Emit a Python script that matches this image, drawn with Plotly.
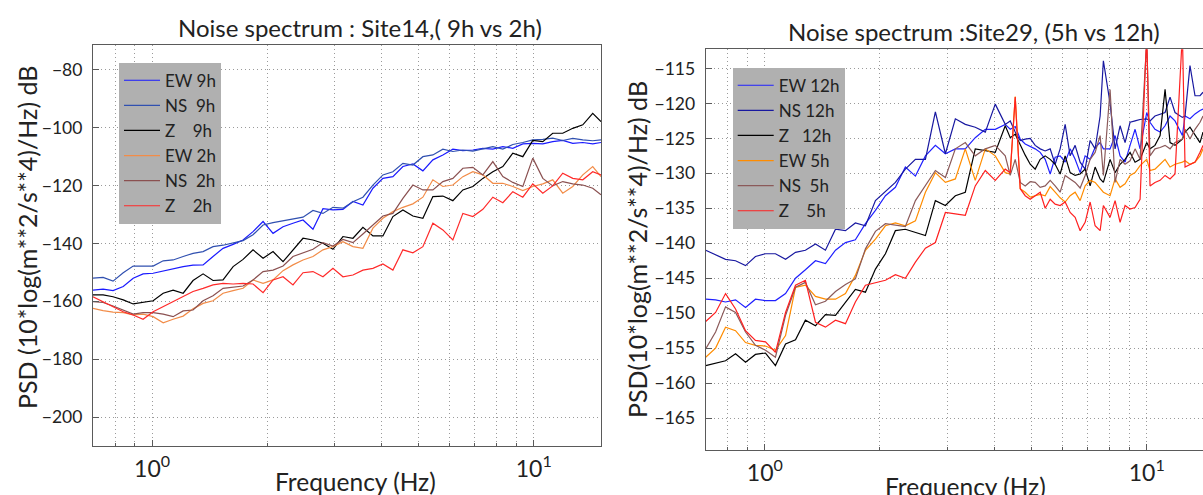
import math
import plotly.graph_objects as go

# ---------------- Left panel: Site14 (9h vs 2h) ----------------
freq_left = [0.700, 0.744, 0.790, 0.840, 0.892, 0.947, 1.006, 1.069, 1.135, 1.206, 1.280, 1.360,
             1.444, 1.534, 1.630, 1.731, 1.838, 1.953,
             2.074, 2.203, 2.339, 2.485, 2.639, 2.803, 2.977, 3.162, 3.359, 3.567, 3.789, 4.024,
             4.274, 4.540, 4.822, 5.122, 5.440, 5.778, 6.137, 6.519, 6.924, 7.354, 7.811, 8.296,
             8.811, 9.359, 9.940, 10.56, 11.21, 11.91, 12.65, 13.44, 14.27, 15.0]

ew_9h = [-156.1, -155.8, -156.3, -154.9, -152.0, -150.5, -150.3, -149.5, -148.7, -148.0, -147.5, -147.4,
         -144.5, -141.7, -140.3, -138.8, -135.9, -132.4,
         -136.5, -134.2, -133.0, -131.9, -135.1, -128.0, -128.4, -128.2, -125.5, -126.7, -120.9, -117.5,
         -116.9, -113.4, -112.5, -114.9, -111.1, -109.4, -107.4, -107.9, -107.7, -107.1, -107.4, -106.5,
         -107.1, -105.6, -105.4, -105.6, -104.8, -104.4, -105.4, -105.1, -105.6, -105.1]
ns_9h = [-152.0, -151.7, -153.0, -150.1, -147.8, -147.7, -147.8, -146.0, -145.7, -144.5, -143.4, -142.8,
         -141.1, -140.6, -139.9, -139.0, -137.0, -133.6,
         -132.8, -132.1, -131.4, -130.9, -128.6, -129.6, -127.5, -127.8, -125.6, -124.0, -119.8, -116.3,
         -115.2, -112.3, -112.9, -110.0, -109.4, -107.4, -108.2, -107.7, -108.1, -107.2, -106.5, -107.4,
         -105.8, -105.1, -104.2, -104.0, -103.6, -104.4, -103.7, -104.2, -104.5, -104.2]
z_9h = [-157.8, -157.8, -158.4, -159.5, -160.9, -160.4, -159.8, -157.2, -156.1, -157.2, -152.8, -150.5,
        -152.8, -152.6, -148.0, -145.5, -142.2, -145.1,
        -142.8, -146.3, -142.2, -138.2, -138.8, -139.9, -142.0, -137.6, -138.2, -134.4, -137.4, -137.4,
        -130.7, -128.4, -130.5, -131.3, -123.8, -123.6, -125.2, -121.5, -120.3, -117.5, -115.2, -113.4,
        -108.8, -110.0, -104.4, -104.8, -101.9, -101.9, -100.2, -99.0, -95.0, -97.9]
ew_2h = [-162.4, -163.2, -163.7, -163.9, -164.7, -164.4, -165.3, -167.4, -166.2, -165.1, -162.6, -160.7,
         -159.8, -157.2, -156.3, -155.5, -152.6, -153.8,
         -152.6, -149.4, -147.4, -145.7, -144.5, -142.2, -141.1, -139.4, -141.1, -141.7, -134.7, -131.3,
         -129.0, -127.5, -126.3, -124.0, -118.0, -120.3, -119.8, -116.9, -115.2, -116.3, -119.2, -119.2,
         -120.3, -121.7, -120.3, -119.4, -118.0, -122.6, -120.3, -116.3, -113.4, -116.9]
ns_2h = [-160.1, -160.4, -161.6, -163.0, -164.4, -163.9, -163.9, -164.4, -165.3, -163.3, -163.0, -159.8,
         -158.1, -155.5, -155.1, -154.7, -152.6, -149.7,
         -149.2, -147.8, -144.5, -143.2, -142.0, -139.7, -140.9, -138.6, -139.7, -136.7, -133.6, -130.5,
         -129.6, -124.4, -119.8, -121.5, -121.5, -118.6, -117.5, -114.0, -113.7, -116.3, -111.7, -116.9,
         -118.9, -120.3, -110.5, -117.5, -120.1, -118.6, -119.4, -119.8, -120.9, -123.2]
z_2h = [-158.4, -160.1, -161.8, -163.6, -164.7, -166.2, -163.6, -161.8, -160.1, -158.4, -156.6, -155.5,
        -154.3, -153.8, -154.0, -153.8, -154.0, -157.0,
        -152.6, -151.5, -154.3, -150.1, -149.7, -151.5, -148.6, -151.5, -150.9, -149.2, -148.6, -147.1,
        -149.2, -142.2, -143.2, -141.1, -133.0, -135.3, -138.8, -129.6, -130.7, -128.2, -124.0, -125.9,
        -122.1, -124.0, -119.4, -122.6, -120.1, -115.7, -117.5, -118.0, -115.2, -116.3]

# ---------------- Right panel: Site29 (5h vs 12h) ----------------
freq_right = [0.700, 0.743, 0.789, 0.838, 0.890, 0.945, 1.004, 1.066, 1.133, 1.203, 1.277, 1.357,
              1.441, 1.531, 1.626, 1.726, 1.834, 1.948, 2.069, 2.197, 2.333, 2.479, 2.633, 2.796,
              2.970, 3.154, 3.349, 3.556, 3.778, 4.012,
              4.261, 4.391, 4.525, 4.664, 4.806, 4.953, 5.104, 5.260, 5.421, 5.587,
              5.757, 5.933, 6.115, 6.302, 6.494, 6.693, 6.898, 7.109, 7.326, 7.550,
              7.70, 8.018, 8.263, 8.516, 8.776, 9.044, 9.322, 9.607, 10.0, 10.20,
              10.51, 10.84, 11.17, 11.51, 11.86, 12.40, 12.60, 12.98, 13.38, 13.79, 14.04]

ew_12h = [-148.0, -148.1, -148.4, -148.1, -149.2, -148.0, -148.2, -148.2, -147.2, -145.0, -143.8, -142.5,
          -142.9, -141.0, -139.9, -139.5, -137.2, -135.3, -133.2, -132.0, -129.1, -130.4, -127.5, -126.0,
          -127.2, -126.5, -126.5, -124.9, -123.7, -123.7,
          -123.0, -123.7, -123.3, -125.1, -125.8, -126.1, -126.5, -127.0, -128.0, -130.1,
          -127.7, -127.5, -128.4, -126.5, -128.0, -129.9, -127.5, -128.0, -126.3, -125.6,
          -126.5, -126.5, -124.6, -127.5, -128.4, -126.0, -123.7, -126.5, -121.3, -122.7,
          -123.7, -124.1, -123.2, -121.8, -122.5, -124.6, -121.8, -122.2, -121.5, -121.0, -120.8]
ns_12h = [-141.0, -141.7, -142.3, -142.5, -143.2, -141.9, -141.5, -141.5, -142.3, -141.3, -141.0, -140.1,
          -141.0, -138.0, -138.2, -137.1, -137.5, -133.9, -132.6, -131.3, -129.4, -128.0, -128.0, -121.2,
          -127.2, -122.2, -123.0, -123.4, -124.1, -120.1,
          -123.0, -122.5, -124.1, -125.3, -125.1, -125.0, -126.0, -126.5, -126.8, -126.5,
          -128.7, -126.5, -123.0, -127.5, -126.0, -128.4, -129.4, -125.3, -126.5, -121.8,
          -113.9, -120.0, -126.5, -123.2, -125.6, -122.7, -122.5, -122.3, -122.2, -122.5,
          -121.8, -121.5, -121.3, -119.1, -121.3, -122.0, -121.8, -114.6, -118.9, -118.9, -118.4]
z_12h = [-157.5, -157.2, -156.8, -155.8, -157.0, -155.9, -155.7, -157.5, -154.4, -153.8, -151.0, -151.8,
         -150.2, -150.3, -148.4, -146.6, -147.0, -143.7, -141.5, -138.2, -138.0, -138.4, -138.9, -133.9,
         -134.6, -133.2, -132.7, -126.5, -126.8, -127.0,
         -123.2, -124.9, -124.4, -126.0, -127.4, -128.7, -129.4, -128.0, -127.5, -128.0,
         -128.7, -130.1, -127.5, -129.9, -130.3, -130.1, -129.4, -131.8, -129.1, -130.8,
         -131.3, -128.0, -129.9, -128.7, -128.0, -127.0, -128.4, -128.0, -125.6, -126.5,
         -126.0, -124.6, -118.0, -125.6, -126.0, -125.1, -124.1, -123.4, -124.6, -125.6, -124.1]
ew_5h = [-156.3, -155.0, -152.0, -152.5, -154.2, -154.6, -154.7, -155.3, -153.2, -146.3, -146.0, -147.6,
         -148.0, -148.0, -147.2, -144.6, -141.0, -139.4, -137.5, -137.1, -137.5, -136.8, -132.7, -129.9,
         -131.3, -130.8, -126.5, -131.0, -126.5, -127.5,
         -129.9, -130.1, -119.0, -132.2, -132.7, -133.4, -133.2, -133.0, -133.2, -131.9,
         -132.7, -133.5, -134.1, -133.2, -132.7, -133.9, -131.8, -131.0, -131.3, -132.2,
         -132.7, -133.2, -130.8, -132.0, -131.5, -130.3, -129.9, -128.9, -128.0, -129.6,
         -129.4, -128.7, -128.0, -129.1, -128.7, -128.4, -128.2, -128.7, -128.4, -127.5, -126.5]
ns_5h = [-155.1, -152.7, -149.1, -149.9, -152.7, -154.6, -155.3, -156.3, -150.3, -146.3, -145.6, -148.8,
         -148.3, -146.9, -145.9, -145.1, -140.8, -138.3, -137.2, -137.4, -137.6, -133.9, -131.8, -129.6,
         -130.6, -126.5, -125.6, -127.5, -126.5, -126.0,
         -127.5, -130.3, -128.0, -131.3, -131.8, -131.2, -131.3, -132.0, -131.8, -131.0,
         -131.8, -132.7, -130.3, -130.8, -131.3, -132.1, -130.3, -128.0, -127.0, -124.6,
         -130.3, -118.0, -131.3, -128.0, -128.7, -128.2, -126.5, -128.0, -111.0, -127.5,
         -126.5, -126.3, -126.0, -126.5, -125.6, -125.1, -123.7, -125.1, -123.7, -122.7, -121.8]
z_5h = [-151.2, -149.9, -147.2, -149.4, -152.5, -153.9, -154.1, -155.6, -149.9, -146.0, -145.3, -151.3,
        -152.0, -151.0, -151.5, -148.4, -146.0, -145.7, -145.3, -144.5, -145.0, -142.7, -140.7, -139.9,
        -135.6, -135.8, -136.0, -131.8, -129.6, -131.0,
        -129.4, -129.9, -119.1, -132.2, -133.2, -133.7, -133.2, -132.7, -135.0, -133.7,
        -134.4, -134.6, -134.1, -135.6, -136.3, -138.2, -137.0, -134.1, -137.5, -138.2,
        -134.6, -136.3, -133.9, -137.0, -134.6, -135.1, -134.9, -133.7, -110.0, -131.8,
        -131.3, -131.0, -130.3, -130.8, -130.1, -110.0, -129.1, -128.7, -128.4, -127.0, -126.0]

left_names = ["EW 9h", "NS\u00a0\u00a09h", "Z\u00a0\u00a0\u00a0\u00a09h", "EW 2h", "NS\u00a0\u00a02h", "Z\u00a0\u00a0\u00a0\u00a02h"]
right_names = ["EW 12h", "NS 12h", "Z\u00a0\u00a0\u00a012h", "EW 5h", "NS\u00a0\u00a05h", "Z\u00a0\u00a0\u00a0\u00a05h"]
left_values = [ew_9h, ns_9h, z_9h, ew_2h, ns_2h, z_2h]
right_values = [ew_12h, ns_12h, z_12h, ew_5h, ns_5h, z_5h]
left_colors = ["#1a1aff", "#3050b0", "#000000", "#f28c48", "#8a5050", "#ff2a2a"]
right_colors = ["#2020ff", "#1818a0", "#000000", "#ff8c00", "#8b5a5a", "#ff2020"]

FONT = "Lato"
TXT = "#222222"
SPINE = "#5a5a5a"
GRID = "#9a9a9a"
DOT = "1px,3px"

fig = go.Figure()
for name, ys, col in zip(left_names, left_values, left_colors):
    fig.add_trace(go.Scatter(x=freq_left, y=ys, mode="lines", name=name,
                             line=dict(color=col, width=1.2), xaxis="x", yaxis="y", legend="legend"))
for name, ys, col in zip(right_names, right_values, right_colors):
    fig.add_trace(go.Scatter(x=freq_right, y=ys, mode="lines", name=name,
                             line=dict(color=col, width=1.2), xaxis="x2", yaxis="y2", legend="legend2"))

minor_x = dict(tickvals=[0.7, 0.8, 0.9, 2, 3, 4, 5, 6, 7, 8, 9], ticks="inside", ticklen=3,
               tickcolor=SPINE, showgrid=True, gridcolor=GRID, griddash=DOT, gridwidth=1)


def xaxis_cfg(domain, rng, anchor):
    return dict(type="log", domain=domain, range=rng, anchor=anchor, showline=True, linecolor=SPINE,
                linewidth=1.2, mirror=True, ticks="inside", ticklen=6, tickcolor=SPINE,
                showgrid=True, gridcolor=GRID, griddash=DOT, gridwidth=1, zeroline=False,
                tickvals=[1, 10], ticktext=["10<sup>0</sup>", "10<sup>1</sup>"],
                tickfont=dict(family=FONT, size=23, color=TXT), ticklabelstandoff=2, minor=minor_x)


def yaxis_cfg(domain, rng, dtick, tick0, anchor, mirror):
    return dict(domain=domain, range=rng, dtick=dtick, tick0=tick0, anchor=anchor, showline=True,
                linecolor=SPINE, linewidth=1.2, mirror=mirror, ticks="inside", ticklen=6,
                tickcolor=SPINE, showgrid=True, gridcolor=GRID, griddash=DOT, gridwidth=1,
                zeroline=False, tickfont=dict(family=FONT, size=17.5, color=TXT),
                ticklabelstandoff=6)


W, H = 1203, 495
legend_common = dict(xanchor="left", yanchor="top", bgcolor="#b0b0b0", borderwidth=0,
                     font=dict(family=FONT, size=17, color=TXT), tracegroupgap=0,
                     itemwidth=36)
fig.update_layout(
    width=W, height=H, margin=dict(l=0, r=0, t=0, b=0),
    paper_bgcolor="white", plot_bgcolor="white", showlegend=True,
    xaxis=xaxis_cfg([93 / W, 601 / W], [math.log10(0.7), math.log10(15.0)], "y"),
    yaxis=yaxis_cfg([1 - 446 / H, 1 - 45 / H], [-210, -71.4], 20, -200, "x", True),
    xaxis2=xaxis_cfg([705.7 / W, 1.0], [math.log10(0.7), math.log10(14.04)], "y2"),
    yaxis2=yaxis_cfg([1 - 450 / H, 1 - 49.3 / H], [-169.57, -112.26], 5, -165, "x2", False),
    legend=dict(x=119 / W, y=1 - 62.7 / H, **legend_common),
    legend2=dict(x=732.7 / W, y=1 - 67.7 / H, **legend_common),
)

annotations = [
    dict(text="Noise spectrum : Site14,( 9h vs 2h)", x=360 / W, y=1 - 27 / H, size=24),
    dict(text="Noise spectrum :Site29, (5h vs 12h)", x=974 / W, y=1 - 32 / H, size=24),
    dict(text="Frequency (Hz)", x=355 / W, y=1 - 481 / H, size=24.5),
    dict(text="Frequency (Hz)", x=965 / W, y=1 - 486 / H, size=24.5),
    dict(text="PSD (10*log(m**2/s**4)/Hz) dB", x=27 / W, y=1 - 238 / H, size=25, textangle=-90),
    dict(text="PSD(10*log(m**2/s**4)/Hz) dB", x=637 / W, y=1 - 250 / H, size=25, textangle=-90),
]
for a in annotations:
    size = a.pop("size")
    fig.add_annotation(xref="paper", yref="paper", showarrow=False, xanchor="center",
                       yanchor="middle", font=dict(family=FONT, size=size, color=TXT), **a)

fig.write_html("out.html")
